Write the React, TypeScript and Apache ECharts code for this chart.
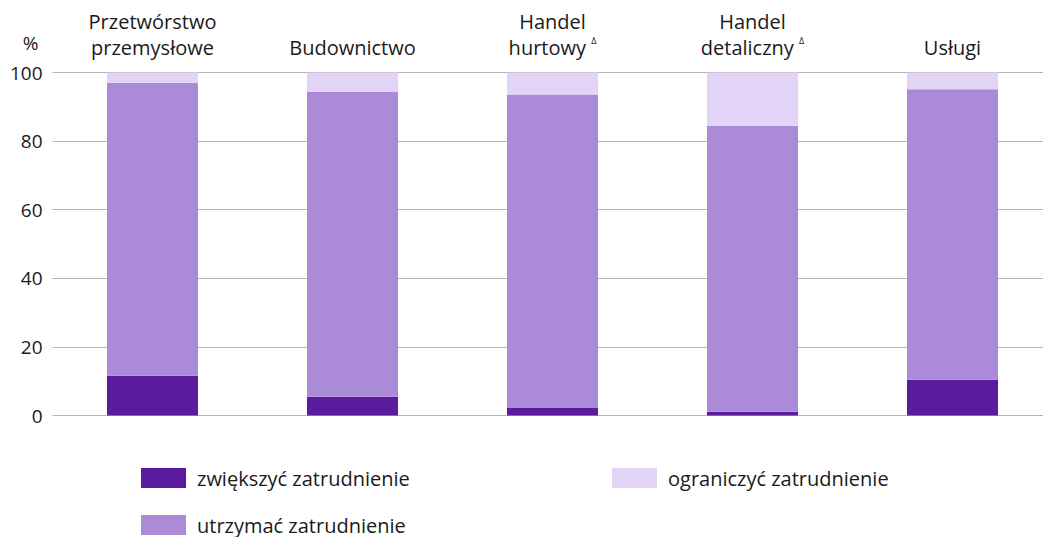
import React, { useEffect, useRef } from "react";
import * as echarts from "echarts";

const categories = ["Przetwórstwo\nprzemysłowe", "Budownictwo", "Handel\nhurtowy {sup|Δ}", "Handel\ndetaliczny {sup|Δ}", "Usługi"];
const increase = [11.6, 5.5, 2.3, 1.1, 10.4];
const maintain = [85.4, 88.9, 91.3, 83.4, 84.7];
const reduce = [3.0, 5.6, 6.4, 15.5, 4.9];
const seriesNames = ["zwiększyć zatrudnienie", "utrzymać zatrudnienie", "ograniczyć zatrudnienie"];
const colors = ["#5c1a9f", "#ab8ad8", "#e2d4f6"];

const FONT = "Open Sans";

export default function App() {
  const ref = useRef<HTMLDivElement>(null);
  useEffect(() => {
    const chart = echarts.init(ref.current!, null, { renderer: "svg" });
    const legendText = { fontFamily: FONT, fontSize: 20, color: "#1a1a1a", padding: [0, 0, 0, 6] };
    const legendBase = {
      orient: "horizontal",
      icon: "rect",
      itemWidth: 45,
      itemHeight: 20,
      itemGap: 0,
      padding: 0,
      textStyle: legendText,
      selectedMode: false,
    };
    chart.setOption({
      animation: false,
      grid: { left: 52.5, right: 9.5, top: 72.5, bottom: 121.5 },
      xAxis: {
        type: "category",
        position: "top",
        data: categories,
        axisTick: { show: false },
        axisLine: { show: false },
        axisLabel: {
          interval: 0,
          margin: 12,
          fontFamily: FONT,
          fontSize: 20,
          lineHeight: 26,
          color: "#1a1a1a",
          rich: {
            sup: { fontFamily: FONT, fontSize: 9, color: "#1a1a1a", padding: [0, 0, 14, 0] },
          },
        },
      },
      yAxis: {
        type: "value",
        min: 0,
        max: 100,
        interval: 20,
        name: "%",
        nameLocation: "end",
        nameGap: 20,
        nameTextStyle: { fontFamily: FONT, fontSize: 19, color: "#1a1a1a", align: "right", padding: [0, 14, 0, 0] },
        axisLine: { show: false },
        axisTick: { show: false },
        splitLine: { lineStyle: { color: "#b5b5b5", width: 1 } },
        axisLabel: { fontFamily: FONT, fontSize: 19, color: "#1a1a1a", margin: 10 },
      },
      legend: [
        { ...legendBase, left: 141, top: 468, data: [seriesNames[0]] },
        { ...legendBase, left: 612, top: 468, data: [seriesNames[2]] },
        { ...legendBase, left: 141, top: 515, data: [seriesNames[1]] },
      ],
      series: [increase, maintain, reduce].map((d, i) => ({
        name: seriesNames[i],
        type: "bar",
        stack: "total",
        data: d,
        barWidth: 91,
        itemStyle: { color: colors[i] },
      })),
    });
    return () => chart.dispose();
  }, []);
  return (
    <div style={{ position: "absolute", left: 0, top: 0, width: 1043, height: 537, overflow: "hidden" }}>
      <div ref={ref} style={{ width: 1062, height: 537 }} />
    </div>
  );
}
